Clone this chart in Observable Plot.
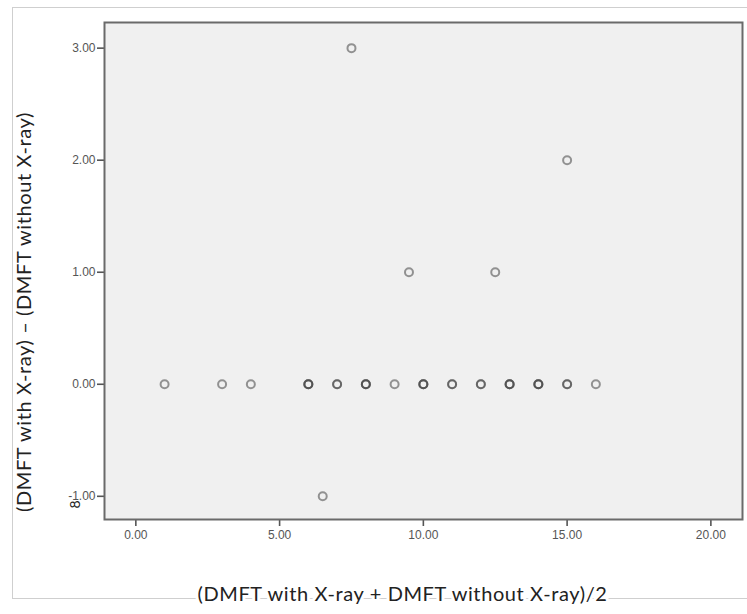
<!DOCTYPE html>
<html>
<head>
<meta charset="utf-8">
<script src="https://cdn.jsdelivr.net/npm/d3@7"></script>
<script src="https://cdn.jsdelivr.net/npm/@observablehq/plot@0.6"></script>
<style>
  html, body { margin: 0; padding: 0; background: #fff; }
  #wrap { position: relative; width: 747px; height: 614px; overflow: hidden; }
  #border { position: absolute; left: 12px; top: 7px; width: 740px; height: 590px;
            border-top: 1px solid #cfcfcf; border-left: 1px solid #cfcfcf; border-bottom: 1px solid #cfcfcf; }
  #chart { position: absolute; left: 0; top: 0; }
</style>
</head>
<body>
<div id="wrap"><div id="border"></div><div id="chart"></div></div>
<script>
// Mean of the two measurements (x) and their difference (y); repeated rows are overlapping points
const meanValues = [1, 3, 4, 6, 6, 6, 7, 7, 8, 8, 8, 9, 10, 10, 10, 11, 11, 12, 12, 13, 13, 13, 14, 14, 14, 15, 15, 16, 7.5, 15, 9.5, 12.5, 6.5];
const diffValues = [0, 0, 0, 0, 0, 0, 0, 0, 0, 0, 0, 0, 0, 0, 0, 0, 0, 0, 0, 0, 0, 0, 0, 0, 0, 0, 0, 0, 3, 2, 1, 1, -1];
const xTicks = [0, 5, 10, 15, 20];
const yTicks = [-1, 0, 1, 2, 3];
const xLabel = "(DMFT with X-ray + DMFT without X-ray)/2";
const yLabel = "(DMFT with X-ray) – (DMFT without X-ray)";
const strayMark = ["8"];

const data = meanValues.map((m, i) => ({mean: m, diff: diffValues[i]}));
const labelFont = "Lato, 'Open Sans', sans-serif";
const fmt = d => d.toFixed(2);

const plot = Plot.plot({
  width: 747,
  height: 614,
  marginLeft: 104,
  marginRight: 5,
  marginTop: 22,
  marginBottom: 95,
  style: {background: "transparent", fontFamily: "'Liberation Sans', Arial, sans-serif", fontSize: "12px"},
  x: {domain: [-1.09, 21.1]},
  y: {domain: [-1.207, 3.229]},
  marks: [
    Plot.frame({fill: "#f0f0f0", stroke: "none"}),
    Plot.axisX({ticks: xTicks, tickFormat: fmt, tickSize: 7, tickPadding: 4,
                stroke: "#555", strokeWidth: 1.6, fill: "#555", fontSize: 12, label: null}),
    Plot.axisY({ticks: yTicks, tickFormat: fmt, tickSize: 7, tickPadding: 2,
                stroke: "#555", strokeWidth: 1.6, fill: "#555", fontSize: 12, label: null}),
    Plot.dot(data, {x: "mean", y: "diff", r: 4, stroke: "#444", strokeOpacity: 0.55, strokeWidth: 2, fill: "none"}),
    Plot.frame({stroke: "#6a6a6a", strokeWidth: 2, fill: "none"}),
    Plot.text([xLabel], {text: d => d, frameAnchor: "bottom", textAnchor: "middle", dx: -21, dy: 75, lineAnchor: "middle",
                         fontSize: 20, fill: "#222", stroke: "white", strokeWidth: 6, fontFamily: labelFont}),
    Plot.text([yLabel], {text: d => d, frameAnchor: "left", textAnchor: "middle", rotate: -90, dx: -80, dy: 41, lineAnchor: "middle",
                         fontSize: 20, fill: "#222", fontFamily: labelFont}),
    Plot.text(strayMark, {text: d => d, frameAnchor: "bottom-left", rotate: -90, dx: -29, dy: -11,
                          lineAnchor: "middle", fontSize: 14, fill: "#222", fontFamily: labelFont})
  ]
});
d3.select(plot).selectAll("text")
  .filter(function () { const t = this.textContent; return t === xLabel || t === yLabel; })
  .style("letter-spacing", "0.6px");
document.getElementById("chart").appendChild(plot);
</script>
</body>
</html>
